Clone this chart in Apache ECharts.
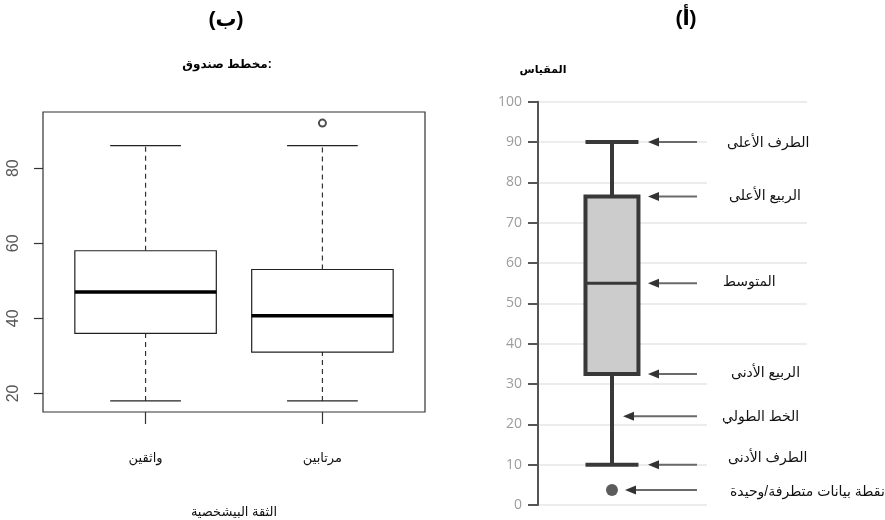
<!DOCTYPE html>
<html>
<head>
<meta charset="utf-8">
<script src="https://cdn.jsdelivr.net/npm/echarts@6/dist/echarts.min.js"></script>
<style>
html,body{margin:0;padding:0;background:#fff;}
#chart{width:885px;height:520px;}
</style>
</head>
<body>
<div id="chart"></div>
<script>
// ---------- Data ----------
// Panel (ب): R-style box plot
const leftCategories = ['واثقين', 'مرتابين'];
const leftWhiskerLow = [18, 18];
const leftQ1 = [36, 31];
const leftMedian = [47, 40.7];
const leftQ3 = [58, 53];
const leftWhiskerHigh = [86, 86];
const leftOutliers = [[2, 92]];
const leftYTicks = [20, 40, 60, 80];
const leftXTicks = [1, 2];

// Panel (أ): annotated box plot
const rightBoxStats = [10, 32.5, 55, 76.5, 90]; // low, q1, median, q3, high
const rightOutliers = [3.7];
const annotationLabels = ['الطرف الأعلى', 'الربيع الأعلى', 'المتوسط', 'الربيع الأدنى', 'الخط الطولي', 'الطرف الأدنى', 'نقطة بيانات متطرفة/وحيدة'];
const annotationValues = [90, 76.5, 55, 32.5, 22, 10, 3.7];

// Texts
const panelLeftTag = '(ب)';
const panelRightTag = '(أ)';
const leftTitle = 'مخطط صندوق:';
const leftXName = 'الثقة البيشخصية';
const rightYName = 'المقياس';

// ---------- Layout constants ----------
const FONT = '"Liberation Sans", "DejaVu Sans", sans-serif';
const RIGHT_BOX_X = 0.275;
const RIGHT_BOX_W = 0.197;
const arrowTipX = [648, 648, 648, 648, 623, 648, 625];
const arrowTailX = 697;
const labelLeftX = [727, 729, 723, 731, 722, 728, 730];
const labelDy = [1, 0, -1, -1, 1, -7, 2];

const chart = echarts.init(document.getElementById('chart'), null, {renderer: 'canvas'});

function leftBox(params, api) {
  const x = api.value(0);
  const low = api.coord([x, api.value(1)]);
  const q1 = api.coord([x, api.value(2)]);
  const med = api.coord([x, api.value(3)]);
  const q3 = api.coord([x, api.value(4)]);
  const high = api.coord([x, api.value(5)]);
  const w = api.size([0.8, 0])[0];
  const cx = med[0];
  const stroke = '#222';
  return {
    type: 'group',
    children: [
      {type: 'line', shape: {x1: cx, y1: q3[1], x2: cx, y2: high[1]}, style: {stroke: '#333', lineWidth: 1.2, lineDash: [5, 4]}},
      {type: 'line', shape: {x1: cx, y1: low[1], x2: cx, y2: q1[1]}, style: {stroke: '#333', lineWidth: 1.2, lineDash: [5, 4]}},
      {type: 'line', shape: {x1: cx - w / 4, y1: high[1], x2: cx + w / 4, y2: high[1]}, style: {stroke: stroke, lineWidth: 1.2}},
      {type: 'line', shape: {x1: cx - w / 4, y1: low[1], x2: cx + w / 4, y2: low[1]}, style: {stroke: stroke, lineWidth: 1.2}},
      {type: 'rect', shape: {x: cx - w / 2, y: q3[1], width: w, height: q1[1] - q3[1]}, style: {fill: '#fff', stroke: stroke, lineWidth: 1.2}},
      {type: 'line', shape: {x1: cx - w / 2, y1: med[1], x2: cx + w / 2, y2: med[1]}, style: {stroke: '#000', lineWidth: 3.5}}
    ]
  };
}

function rightBox(params, api) {
  const x = api.value(0);
  const low = api.coord([x, api.value(1)]);
  const q1 = api.coord([x, api.value(2)]);
  const med = api.coord([x, api.value(3)]);
  const q3 = api.coord([x, api.value(4)]);
  const high = api.coord([x, api.value(5)]);
  const w = api.size([RIGHT_BOX_W, 0])[0];
  const cx = med[0];
  const stroke = '#383838';
  return {
    type: 'group',
    children: [
      {type: 'line', shape: {x1: cx, y1: q3[1], x2: cx, y2: high[1]}, style: {stroke: stroke, lineWidth: 4}},
      {type: 'line', shape: {x1: cx, y1: low[1], x2: cx, y2: q1[1]}, style: {stroke: stroke, lineWidth: 4}},
      {type: 'line', shape: {x1: cx - w / 2, y1: high[1], x2: cx + w / 2, y2: high[1]}, style: {stroke: stroke, lineWidth: 4}},
      {type: 'line', shape: {x1: cx - w / 2, y1: low[1], x2: cx + w / 2, y2: low[1]}, style: {stroke: stroke, lineWidth: 4}},
      {type: 'rect', shape: {x: cx - w / 2, y: q3[1], width: w, height: q1[1] - q3[1]}, style: {fill: '#cccccc', stroke: stroke, lineWidth: 4}},
      {type: 'line', shape: {x1: cx - w / 2, y1: med[1], x2: cx + w / 2, y2: med[1]}, style: {stroke: stroke, lineWidth: 3}}
    ]
  };
}

function annotation(params, api) {
  const i = params.dataIndex;
  const y = api.coord([0, api.value(1)])[1];
  const tip = arrowTipX[i];
  const ty = y + labelDy[i];
  const isLast = i === annotationLabels.length - 1;
  return {
    type: 'group',
    children: [
      {type: 'rect', shape: {x: 707, y: ty - 16, width: isLast ? 178 : 104, height: 32}, style: {fill: '#fff'}},
      {type: 'line', shape: {x1: tip + 8, y1: y, x2: arrowTailX, y2: y}, style: {stroke: '#6a6a6a', lineWidth: 2}},
      {type: 'polygon', shape: {points: [[tip, y], [tip + 11, y - 4.5], [tip + 11, y + 4.5]]}, style: {fill: '#333'}},
      {type: 'text', x: labelLeftX[i], y: ty, style: {text: annotationLabels[i], fill: '#111', font: '14px ' + FONT, textAlign: 'left', textVerticalAlign: 'middle'}}
    ]
  };
}

const option = {
  backgroundColor: '#fff',
  animation: false,
  textStyle: {fontFamily: FONT},
  grid: [
    {left: 43, top: 112, width: 382, height: 300, show: true, borderColor: '#333', borderWidth: 1.2, backgroundColor: 'transparent', containLabel: false, outerBoundsMode: 'none'},
    {left: 538, top: 101.7, width: 269, height: 403.3, containLabel: false, outerBoundsMode: 'none'}
  ],
  xAxis: [
    {
      gridIndex: 0, type: 'value', min: 0.42, max: 2.58,
      axisLine: {show: false}, splitLine: {show: false},
      axisTick: {show: true, customValues: leftXTicks, length: 12, lineStyle: {color: '#333', width: 1.2}},
      axisLabel: {customValues: leftXTicks, margin: 40, color: '#111', fontSize: 13, fontFamily: FONT,
        formatter: v => leftCategories[Math.round(v) - 1]},
      name: leftXName, nameLocation: 'middle', nameGap: 94,
      nameTextStyle: {color: '#111', fontSize: 13, fontFamily: FONT}
    },
    {gridIndex: 1, type: 'value', min: 0, max: 1, show: false}
  ],
  yAxis: [
    {
      gridIndex: 0, type: 'value', min: 15.04, max: 94.96,
      axisLine: {show: false}, splitLine: {show: false},
      axisTick: {show: true, customValues: leftYTicks, length: 9, lineStyle: {color: '#333', width: 1.2}},
      axisLabel: {customValues: leftYTicks, rotate: 90, margin: 21, color: '#555', fontSize: 16, fontFamily: FONT}
    },
    {
      gridIndex: 1, type: 'value', min: 0, max: 100, interval: 10,
      axisLine: {show: true, lineStyle: {color: '#555', width: 2}},
      axisTick: {show: true, length: 10, lineStyle: {color: '#555', width: 2}},
      axisLabel: {margin: 16, color: '#9c9c9c', fontSize: 14, fontFamily: '"Open Sans", sans-serif'},
      splitLine: {show: true, lineStyle: {color: '#ececec', width: 2}}
    }
  ],
  graphic: [
    {type: 'text', x: 226, y: 20, style: {text: panelLeftTag, font: 'bold 21px ' + FONT, fill: '#000', textAlign: 'center', textVerticalAlign: 'middle'}},
    {type: 'text', x: 686, y: 19, style: {text: panelRightTag, font: 'bold 21px ' + FONT, fill: '#000', textAlign: 'center', textVerticalAlign: 'middle'}},
    {type: 'text', x: 227, y: 65, style: {text: leftTitle, font: 'bold 12px ' + FONT, fill: '#000', textAlign: 'center', textVerticalAlign: 'middle'}},
    {type: 'text', x: 543, y: 70, style: {text: rightYName, font: 'bold 11px ' + FONT, fill: '#000', textAlign: 'center', textVerticalAlign: 'middle'}}
  ],
  series: [
    {
      type: 'custom', xAxisIndex: 0, yAxisIndex: 0, renderItem: leftBox,
      encode: {x: 0, y: [1, 2, 3, 4, 5]},
      data: leftCategories.map((c, i) => [i + 1, leftWhiskerLow[i], leftQ1[i], leftMedian[i], leftQ3[i], leftWhiskerHigh[i]])
    },
    {
      type: 'scatter', xAxisIndex: 0, yAxisIndex: 0, symbol: 'emptyCircle', symbolSize: 7,
      itemStyle: {color: '#222', borderColor: '#222', borderWidth: 1.2},
      data: leftOutliers
    },
    {
      type: 'custom', xAxisIndex: 1, yAxisIndex: 1, renderItem: rightBox,
      encode: {x: 0, y: [1, 2, 3, 4, 5]},
      data: [[RIGHT_BOX_X].concat(rightBoxStats)]
    },
    {
      type: 'scatter', xAxisIndex: 1, yAxisIndex: 1, symbol: 'circle', symbolSize: 12,
      itemStyle: {color: '#333'},
      data: rightOutliers.map(v => [RIGHT_BOX_X, v])
    },
    {
      type: 'custom', xAxisIndex: 1, yAxisIndex: 1, renderItem: annotation, clip: false, z: 1,
      encode: {x: 0, y: 1},
      data: annotationValues.map(v => [0, v])
    }
  ]
};
chart.setOption(option);
</script>
</body>
</html>
